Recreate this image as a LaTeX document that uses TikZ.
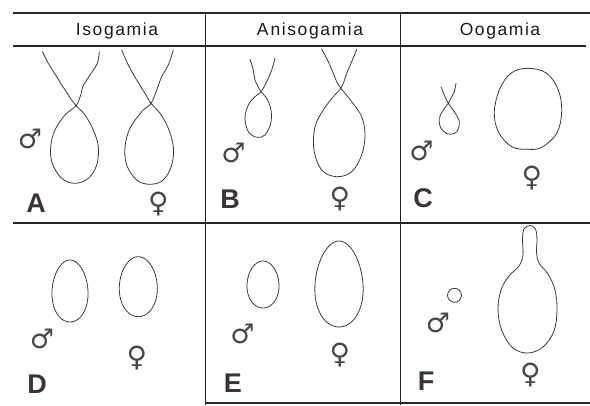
\documentclass[tikz,border=0pt]{standalone}
\usepackage{fontspec}
\setmainfont{Liberation Sans}
\newfontfamily\headfont[LetterSpace=9]{Liberation Sans}
\newfontfamily\symfont{DejaVu Sans}
\definecolor{inkgray}{HTML}{3A3A3A}
\definecolor{labelgray}{HTML}{3B3434}
\begin{document}
\begin{tikzpicture}[x=1pt,y=-1pt,
  rule/.style={draw=black!85, line width=1.4pt},
  cell/.style={draw=inkgray, line width=0.8pt, line join=round, line cap=round},
  head/.style={font=\headfont\fontsize{17.5}{19}\selectfont, text=black!90, inner sep=0pt, anchor=base},
  panel/.style={font=\bfseries\fontsize{27}{30}\selectfont, text=labelgray, inner sep=0pt, anchor=base},
  male/.style={font=\symfont\fontsize{27}{30}\selectfont, text=black!72, inner sep=0pt},
  female/.style={font=\symfont\fontsize{28}{30}\selectfont, text=black!72, inner sep=0pt},
]
\useasboundingbox (0,0) rectangle (590,405);

% table rules
\draw[rule] (13,13) -- (590,13);
\draw[rule] (13,46) -- (586,46);
\draw[rule] (13,223) -- (590,223);
\draw[rule] (205,403) -- (590,403);
\draw[rule, line width=1pt] (205,13) -- (205,405);
\draw[rule, line width=1pt] (400,13) -- (400,405);

% column heads
\node[head] (hiso) at (117,35) {Isogamia};
\node[head] (haniso) at (310,35) {A\kern2pt nisogamia};
\node[head] (hoo) at (500,35) {Oogamia};

% A: isogamous flagellate gametes
\draw[cell] plot[smooth, tension=0.6] coordinates {(42.3,51.7) (48.3,63.3) (56.7,76.7) (65,90) (71.7,100) (76,105.7) (85,115) (93.3,130) (98.3,146.7) (96.7,165) (88.3,178.3) (75,183.3) (61.7,178.3) (52.3,163.3) (50.7,146.7) (55,130) (65,115) (76,105.7) (80.7,95) (82.7,86.7) (90,75) (97.3,63.3) (99.3,51.7)};
\draw[cell] plot[smooth, tension=0.6] coordinates {(121.7,50) (128.3,65) (136.7,80) (145,93.3) (151,103.3) (160,113.3) (168.3,128.3) (173.3,146.7) (171.7,165) (163.3,180) (150,184.3) (136.7,180) (126.7,165) (125,146.7) (130,128.3) (141.7,111.7) (151,103.3) (156.7,90) (161.7,76.7) (168.3,65) (173.3,50)};
\node[male] (mA) at (30,138.5) {♂};
\node[female] (fA) at (158.5,204) {♀};
\node[panel] (lA) at (36,212) {A};

% B: anisogamous flagellate gametes
\draw[cell] plot[smooth, tension=0.6] coordinates {(250,59.3) (253.3,70) (255,80) (261,91.7) (266.7,98.3) (271,110) (270.7,123.3) (265,135) (256.7,137.3) (248.3,131.7) (245,118.3) (248.3,105) (255,96.7) (261,91.7) (266.7,81.7) (271.7,70) (275,58.3)};
\draw[cell] plot[smooth, tension=0.6] coordinates {(321.7,49.3) (328.3,61.7) (333.3,73.3) (336.7,81.7) (341,88.3) (351.7,101.7) (361.7,116.7) (365,135) (361.7,155) (351.7,171.7) (336.7,176.7) (321.7,170) (314,150) (315,126.7) (323.3,110) (333.3,96.7) (341,88.3) (344,81.7) (346.7,73.3) (351.7,61.7) (356.7,49.3)};
\node[male] (mB) at (233.5,152.5) {♂};
\node[female] (fB) at (340,199) {♀};
\node[panel] (lB) at (230,208) {B};

% C: oogamy, flagellate sperm and egg
\draw[cell] plot[smooth, tension=0.6] coordinates {(441,86.7) (444.3,95) (448.3,103.3) (454.3,111.7) (459.3,121.7) (456.7,131.7) (448.3,134) (441,128.3) (439.3,118.3) (443.3,110) (448.3,103.3) (451,98.3) (454.3,91.7) (456,83.3)};
\draw[cell] plot[smooth cycle, tension=0.6] coordinates {(528.3,68.3) (546.7,73.3) (558.3,90) (561.7,111.7) (556.7,133.3) (541.7,147.3) (528.3,149.3) (511.7,146.7) (498.3,131.7) (494.3,111.7) (500,88.3) (511.7,72.7)};
\node[male] (mC) at (421.5,150.5) {♂};
\node[female] (fC) at (532,178.5) {♀};
\node[panel] (lC) at (423,207) {C};

% D: isogamous non-flagellate gametes
\draw[cell] plot[domain=0:354, samples=60, smooth cycle] ({70+18*cos(\x)*(1+0.08*sin(\x))},{291+31*sin(\x)});
\draw[cell] plot[domain=0:354, samples=60, smooth cycle] ({138.3+19*cos(\x)*(1+0.06*sin(\x))},{286.7+30*sin(\x)});
\node[male] (mD) at (42,339) {♂};
\node[female] (fD) at (137,358) {♀};
\node[panel] (lD) at (37,393) {D};

% E: anisogamous non-flagellate gametes
\draw[cell] plot[domain=0:354, samples=60, smooth cycle] ({263+16*cos(\x)*(1+0.06*sin(\x))},{284.5+23.5*sin(\x)});
\draw[cell] plot[domain=0:354, samples=60, smooth cycle] ({339+24*cos(\x)*(1+0.12*sin(\x))},{284+43*sin(\x)});
\node[male] (mE) at (242.5,333.5) {♂};
\node[female] (fE) at (340,355) {♀};
\node[panel] (lE) at (233,392) {E};

% F: oogamy, small round sperm and flask-shaped egg
\draw[cell] (454.5,295.3) circle[radius=7];
\draw[cell] plot[smooth cycle, tension=0.6] coordinates {(530,225.5) (535.5,229) (537,240) (536.5,252) (539,263) (548,274) (555,290) (557,310) (554,331) (543,347) (528,353) (513,348) (502,331) (498,310) (501,290) (509,276) (519,266) (523,255) (522.5,240) (524,229)};
\node[male] (mF) at (438,323) {♂};
\node[female] (fF) at (530.5,375) {♀};
\node[panel] (lF) at (426,390) {F};
\end{tikzpicture}
\end{document}
